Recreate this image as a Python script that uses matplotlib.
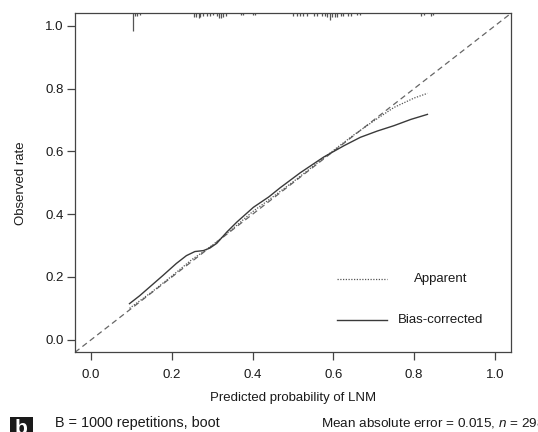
import matplotlib
matplotlib.use("Agg")
import matplotlib.pyplot as plt
from matplotlib.patches import Rectangle

plt.rcParams['font.family'] = ['Liberation Sans', 'DejaVu Sans']
plt.rcParams['mathtext.fontset'] = 'custom'
plt.rcParams['mathtext.rm'] = 'Liberation Sans'
plt.rcParams['mathtext.it'] = 'Liberation Sans:italic'

# ---- data ----
bias_x = [0.095, 0.12, 0.145, 0.178, 0.211, 0.236, 0.257, 0.278, 0.294, 0.311, 0.336,
          0.361, 0.402, 0.44, 0.468, 0.518, 0.576, 0.626, 0.667, 0.709, 0.75, 0.792, 0.833]
bias_y = [0.115, 0.14, 0.168, 0.205, 0.243, 0.268, 0.281, 0.284, 0.292, 0.307, 0.343,
          0.375, 0.422, 0.455, 0.484, 0.532, 0.582, 0.618, 0.645, 0.665, 0.682, 0.702, 0.718]

app_x = [0.095, 0.15, 0.2, 0.25, 0.28, 0.30, 0.35, 0.40, 0.45, 0.50, 0.55, 0.60, 0.65,
         0.70, 0.75, 0.80, 0.833]
app_y = [0.10, 0.152, 0.203, 0.256, 0.282, 0.301, 0.353, 0.408, 0.455, 0.503, 0.553,
         0.603, 0.652, 0.697, 0.740, 0.770, 0.785]

rug_x = [0.104, 0.109, 0.114, 0.120, 0.255, 0.260, 0.266, 0.270, 0.278, 0.288, 0.295,
         0.303, 0.311, 0.316, 0.321, 0.327, 0.334, 0.371, 0.376, 0.400, 0.406, 0.501,
         0.510, 0.518, 0.526, 0.535, 0.551, 0.560, 0.572, 0.580, 0.584, 0.591, 0.597,
         0.603, 0.609, 0.618, 0.624, 0.636, 0.643, 0.659, 0.667, 0.817, 0.825, 0.841, 0.848]
rug_freq = [9, 1.5, 1.5, 1, 2, 2, 2.5, 2, 1.5, 1.5, 1.5, 1, 1.5, 2.5, 2.5, 2, 1.5, 1, 1,
            1, 1, 1.5, 1.5, 1.5, 1.5, 1.5, 1.5, 1.5, 1.5, 1.5, 2, 3.5, 2, 2, 2, 1.5, 1.5,
            1.5, 1.5, 1, 1, 1.5, 1, 1.5, 1]

ticks = [0.0, 0.2, 0.4, 0.6, 0.8, 1.0]
tick_labels = ["0.0", "0.2", "0.4", "0.6", "0.8", "1.0"]

# ---- figure ----
fig = plt.figure(figsize=(5.38, 4.32), dpi=100)
ax = fig.add_axes([75/538, 1-352.3/432, 436/538, 339/432])
lo, hi = -0.04, 1.04
ax.set_xlim(lo, hi)
ax.set_ylim(lo, hi)

grey = '#3a3a3a'
# ideal line
ax.plot([lo, hi], [lo, hi], color='#666666', lw=0.9, linestyle=(0, (4.5, 3)))
# curves
ax.plot(app_x, app_y, color='#555555', lw=0.9, linestyle=(0, (1, 1.2)))
ax.plot(bias_x, bias_y, color=grey, lw=1.0)

# spike histogram at top
unit = 0.0063
for xv, f in zip(rug_x, rug_freq):
    ax.plot([xv, xv], [hi, hi - f * unit], color='#555555', lw=0.9, solid_capstyle='butt')

# legend (manual)
ax.plot([0.609, 0.734], [0.192, 0.192], color='#555555', lw=0.9, linestyle=(0, (1, 1.2)))
ax.plot([0.609, 0.734], [0.063, 0.063], color=grey, lw=1.0)
ax.text(0.866, 0.192, "Apparent", ha='center', va='center', fontsize=9.5, color='#1a1a1a')
ax.text(0.866, 0.063, "Bias-corrected", ha='center', va='center', fontsize=9.5, color='#1a1a1a')

# axes styling
for s in ax.spines.values():
    s.set_color('#444444')
    s.set_linewidth(0.9)
ax.set_xticks(ticks)
ax.set_xticklabels(tick_labels)
ax.set_yticks(ticks)
ax.set_yticklabels(tick_labels)
ax.tick_params(axis='both', direction='out', length=5.8, width=0.9, color='#444444',
               labelsize=9.5, labelcolor='#1a1a1a')
ax.tick_params(axis='x', pad=6.5)
ax.tick_params(axis='y', pad=2.4)

ax.set_xlabel("Predicted probability of LNM", fontsize=9.5, color='#1a1a1a')
ax.set_ylabel("Observed rate", fontsize=9.5, color='#1a1a1a')
ax.xaxis.set_label_coords(0.5, (352.3-397.7)/339)
ax.xaxis.label.set_va('center')
ax.yaxis.set_label_coords((21-75)/436, 0.5)
ax.yaxis.label.set_va('center')

# bottom subtitle
fig.text(55/538, 1-423.5/432, "B = 1000 repetitions, boot", fontsize=10.4,
         ha='left', va='center', color='#1a1a1a')
fig.text(321/538, 1-423.5/432, r"Mean absolute error = 0.015, $n$ = 298", fontsize=9.7,
         ha='left', va='center', color='#1a1a1a')

# panel label "b"
fig.patches.append(Rectangle((10/538, 0), 23/538, (432-417)/432, transform=fig.transFigure,
                             facecolor='#1a1a1a', edgecolor='none'))
fig.text(21.5/538, 1-428/432, "b", fontsize=15, fontweight='bold', color='white',
         ha='center', va='center')

fig.savefig("out.png", dpi=100)
